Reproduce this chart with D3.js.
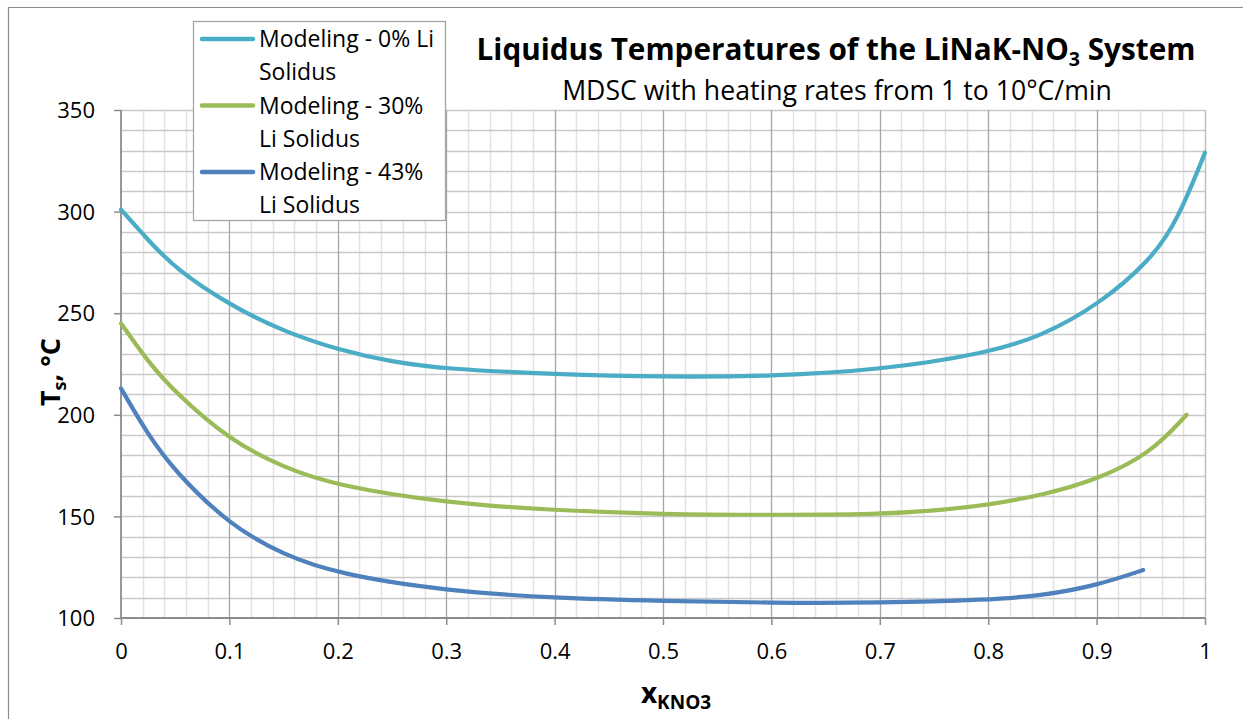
<!DOCTYPE html>
<html><head><meta charset="utf-8">
<script src="https://cdn.jsdelivr.net/npm/d3@7"></script>
<style>
html,body{margin:0;padding:0;background:#fff;}
svg text{font-family:"Open Sans","Noto Sans",sans-serif;fill:#000;}
</style></head>
<body><svg id="c" width="1253" height="719"></svg>
<script>
// ---- data ----
const seriesNames = ["Modeling - 0% Li Solidus", "Modeling - 30% Li Solidus", "Modeling - 43% Li Solidus"];
const legendLines = [["Modeling - 0% Li", "Solidus"], ["Modeling - 30%", "Li Solidus"], ["Modeling - 43%", "Li Solidus"]];
const colors = ["#4bacc6", "#9bbb59", "#4f81bd"];
const x0 = [0, 0.025, 0.05, 0.1, 0.15, 0.2, 0.25, 0.3, 0.4, 0.5, 0.6, 0.7, 0.8, 0.85, 0.9, 0.95, 0.975, 1.0];
const y0 = [301, 286, 272, 254, 241, 232, 226, 222.5, 220, 218.6, 219, 222, 230.4, 239, 253.5, 276, 296, 329];
const x30 = [0, 0.025, 0.05, 0.1, 0.15, 0.2, 0.3, 0.4, 0.5, 0.6, 0.7, 0.75, 0.8, 0.85, 0.9, 0.95, 0.983];
const y30 = [245, 226, 211, 187.6, 174, 165, 156.6, 153, 151, 150.7, 151, 152.8, 155.6, 160.5, 168, 181, 200];
const x43 = [0, 0.025, 0.05, 0.1, 0.15, 0.2, 0.3, 0.4, 0.5, 0.6, 0.7, 0.8, 0.85, 0.9, 0.943];
const y43 = [213, 190, 172, 145.8, 131, 121.7, 113.3, 109.8, 108.4, 107.4, 107.4, 108.9, 111, 116, 123.6];
const xTicks = [0, 0.1, 0.2, 0.3, 0.4, 0.5, 0.6, 0.7, 0.8, 0.9, 1];
const yTicks = [100, 150, 200, 250, 300, 350];
const titleText = "Liquidus Temperatures of the LiNaK-NO";
const subtitleText = "MDSC with heating rates from 1 to 10°C/min";

const series = [[x0, y0], [x30, y30], [x43, y43]].map(([xs, ys], i) => ({
  name: seriesNames[i], color: colors[i], pts: xs.map((x, j) => [x, ys[j]])
}));

const svg = d3.select("#c");
const L = 121, R = 1205, T = 110, B = 618;
const x = d3.scaleLinear().domain([0, 1]).range([L, R]);
const y = d3.scaleLinear().domain([100, 350]).range([B, T]);

function fitWidth(sel, w) {
  const cur = sel.node().getComputedTextLength();
  const fs = parseFloat(sel.style("font-size"));
  const nfs = fs * w / cur;
  sel.style("font-size", nfs + "px");
  sel.selectAll("tspan").each(function () {
    const f = parseFloat(this.getAttribute("data-rel") || "1");
    d3.select(this).style("font-size", (nfs * f) + "px");
  });
}

// chart border
svg.append("path").attr("d", `M8.5,719 V7.5 H1243`).attr("fill", "none").attr("stroke", "#8c8c8c").attr("stroke-width", 1.2);

// grid
const g = svg.append("g");
g.selectAll(".hx").data(d3.range(0, 1.0001, 0.02).filter(v => Math.abs(v*10 - Math.round(v*10)) > 1e-6))
  .join("line").attr("x1", d => Math.round(x(d)) + 0.5).attr("x2", d => Math.round(x(d)) + 0.5)
  .attr("y1", T).attr("y2", B).attr("stroke", "#e2e2e2").attr("stroke-width", 1.5);
g.selectAll(".hy").data(d3.range(110, 351, 10))
  .join("line").attr("x1", L).attr("x2", R).attr("y1", d => Math.round(y(d)) + 0.5).attr("y2", d => Math.round(y(d)) + 0.5)
  .attr("stroke", "#c9c9c9").attr("stroke-width", 1.5);
g.selectAll(".vx").data(xTicks.slice(1, -1))
  .join("line").attr("x1", d => Math.round(x(d)) + 0.5).attr("x2", d => Math.round(x(d)) + 0.5)
  .attr("y1", T).attr("y2", B).attr("stroke", "#a6a6a6").attr("stroke-width", 1.3);
svg.append("line").attr("x1", R + 0.5).attr("x2", R + 0.5).attr("y1", T).attr("y2", B).attr("stroke", "#bfbfbf").attr("stroke-width", 1.5);

// axes
const xAxis = d3.axisBottom(x).tickValues(xTicks).tickSize(7).tickPadding(18).tickFormat(d => d3.format("")(d));
const yAxis = d3.axisLeft(y).tickValues(yTicks).tickSize(7).tickPadding(19);
const gx = svg.append("g").attr("transform", `translate(0,${B})`).call(xAxis);
const gy = svg.append("g").attr("transform", `translate(${L},0)`).call(yAxis);
[gx, gy].forEach(a => {
  a.select(".domain").attr("stroke", "#8c8c8c").attr("stroke-width", 1.8);
  a.selectAll(".tick line").attr("stroke", "#8c8c8c").attr("stroke-width", 1.5);
  a.selectAll("text").style("font-size", "22px").attr("fill", "#000").style("font-family", '"Open Sans",sans-serif');
});
gx.select(".domain").attr("d", `M${L},0H${R}`);
gy.select(".domain").attr("d", `M0,${B}V${T}`);
gy.selectAll("text").attr("dy", "0.35em");

// lines
const line = d3.line().x(d => x(d[0])).y(d => y(d[1])).curve(d3.curveBasis);
svg.append("g").selectAll("path").data(series).join("path")
  .attr("d", d => line(d.pts)).attr("fill", "none").attr("stroke", d => d.color)
  .attr("stroke-width", 4.2).attr("stroke-linecap", "round");

// legend
const lg = svg.append("g");
lg.append("rect").attr("x", 193.5).attr("y", 21.5).attr("width", 252).attr("height", 199)
  .attr("fill", "#fff").attr("stroke", "#a6a6a6").attr("stroke-width", 1.3);
legendLines.forEach((ls, i) => {
  const cy = 39 + i * 66.5;
  lg.append("line").attr("x1", 202).attr("x2", 253).attr("y1", cy).attr("y2", cy)
    .attr("stroke", colors[i]).attr("stroke-width", 4.5).attr("stroke-linecap", "round");
  ls.forEach((t, k) => {
    lg.append("text").attr("x", 259).attr("y", cy + 8 + k * 33).style("font-size", "23px").text(t);
  });
});

// title
const tt = svg.append("text").attr("x", 836).attr("y", 60).attr("text-anchor", "middle")
  .style("font-size", "24px").style("font-weight", "bold");
tt.append("tspan").attr("data-rel", 1).text(titleText);
tt.append("tspan").attr("data-rel", 0.66).attr("dy", 6).text("3");
tt.append("tspan").attr("data-rel", 1).attr("dy", -6).text(" System");
fitWidth(tt, 725);
const st = svg.append("text").attr("x", 837).attr("y", 100).attr("text-anchor", "middle")
  .style("font-size", "20px").text(subtitleText);
fitWidth(st, 550);

// axis titles
const xl = svg.append("text").attr("x", 676).attr("y", 703).attr("text-anchor", "middle")
  .style("font-size", "28px").style("font-weight", "bold");
xl.append("tspan").text("x");
xl.append("tspan").attr("dy", 6).style("font-size", "19px").text("KNO3");

const yl = svg.append("text").attr("transform", `translate(60,372) rotate(-90)`).attr("text-anchor", "middle")
  .style("font-size", "27px").style("font-weight", "bold");
yl.append("tspan").text("T");
yl.append("tspan").attr("dy", 6).style("font-size", "18px").text("s");
yl.append("tspan").attr("dy", -6).text(", °C");
</script></body></html>
